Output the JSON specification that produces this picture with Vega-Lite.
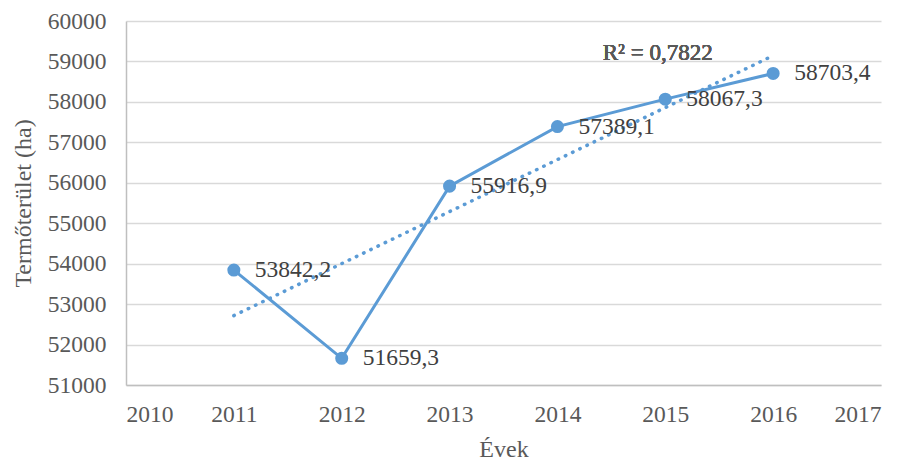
{
  "$schema": "https://vega.github.io/schema/vega-lite/v6.json",
  "width": 755,
  "height": 364,
  "autosize": "none",
  "padding": {"left": 126, "top": 21, "right": 25, "bottom": 76},
  "background": "white",
  "config": {
    "font": "'Liberation Serif'",
    "view": {"stroke": null},
    "locale": {"number": {"decimal": ",", "thousands": "", "grouping": [3], "currency": ["", ""]}}
  },
  "data": {"values": [
    {"year": 2011, "area": 53842.2},
    {"year": 2012, "area": 51659.3},
    {"year": 2013, "area": 55916.9},
    {"year": 2014, "area": 57389.1},
    {"year": 2015, "area": 58067.3},
    {"year": 2016, "area": 58703.4}
  ]},
  "encoding": {
    "x": {"field": "year", "type": "quantitative",
      "scale": {"domain": [2010, 2017], "nice": false, "zero": false},
      "axis": {"title": "Évek", "values": [2010, 2011, 2012, 2013, 2014, 2015, 2016, 2017], "format": "d",
        "grid": false, "ticks": false, "domainColor": "#bfbfbf", "domainWidth": 1.5,
        "labelFontSize": 23.5, "labelColor": "#595959", "labelPadding": 17,
        "titleFontSize": 24, "titleFontWeight": "normal", "titleColor": "#595959", "titlePadding": 12}},
    "y": {"field": "area", "type": "quantitative",
      "scale": {"domain": [51000, 60000], "nice": false, "zero": false},
      "axis": {"title": "Termőterület (ha)", "values": [51000, 52000, 53000, 54000, 55000, 56000, 57000, 58000, 59000, 60000], "format": "d",
        "grid": true, "gridColor": "#d9d9d9", "gridWidth": 1.5, "ticks": false, "domainColor": "#bfbfbf", "domainWidth": 1.5,
        "labelFontSize": 23.5, "labelColor": "#595959", "labelPadding": 20,
        "titleFontSize": 24, "titleFontWeight": "normal", "titleColor": "#595959", "titlePadding": 12}}
  },
  "layer": [
    {
      "transform": [{"regression": "area", "on": "year", "extent": [2011, 2016]}],
      "mark": {"type": "line", "color": "#5b9bd5", "strokeWidth": 3.5, "strokeDash": [0.5, 7.5], "strokeCap": "round"}
    },
    {"mark": {"type": "line", "color": "#5b9bd5", "strokeWidth": 3}},
    {"mark": {"type": "point", "filled": true, "opacity": 1, "color": "#5b9bd5", "size": 170}},
    {"mark": {"type": "text", "fontWeight": "normal", "align": "left", "baseline": "middle", "dx": 21, "fontSize": 23.5, "color": "#404040"},
      "encoding": {"text": {"field": "area", "type": "quantitative", "format": ".1f"}}},
    {"mark": {"type": "text", "fontWeight": "normal", "align": "center", "baseline": "middle", "fontSize": 23, "color": "#595959", "text": "R² = 0,7822"},
      "encoding": {"x": {"datum": 2014.93}, "y": {"datum": 59210}}}
  ]
}
